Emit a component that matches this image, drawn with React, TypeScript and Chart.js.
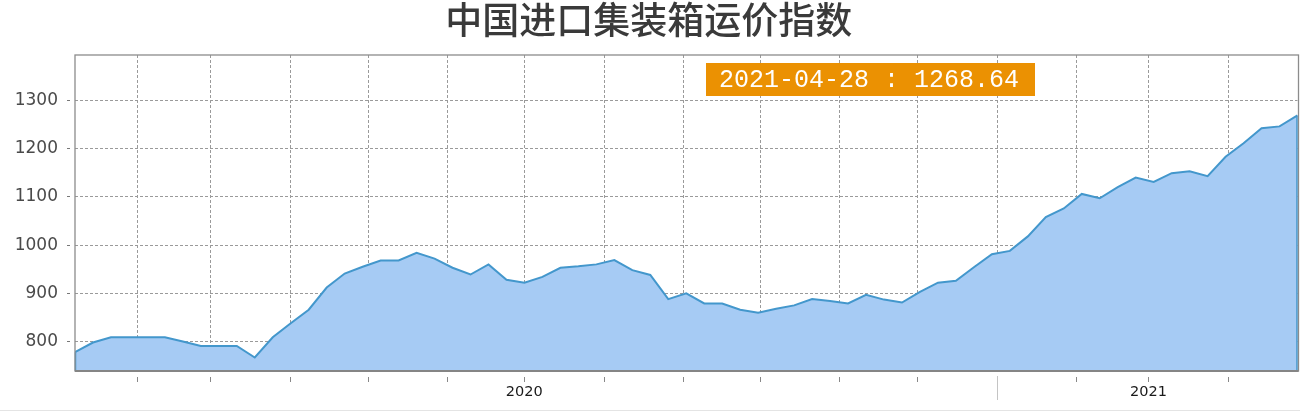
import React, { useEffect, useRef } from 'react';
import { Chart, registerables } from 'chart.js';

Chart.register(...registerables);

const TITLE = '中国进口集装箱运价指数';
const LAST_DATE = '2021-04-28';

// weekly index values (oldest -> latest)
const indexValues = [
  778, 798, 809, 809, 809, 809, 800, 791, 791, 791,
  767, 809, 838, 866, 912, 941, 955, 968, 968, 984,
  972, 953, 939, 960, 928, 922, 934, 953, 956, 960,
  969, 948, 938, 888, 900, 879, 879, 866, 860, 868,
  875, 888, 884, 879, 897, 887, 881, 903, 922, 926,
  954, 981, 988, 1018, 1058, 1076, 1106, 1097, 1120, 1140,
  1131, 1149, 1153, 1143, 1183, 1211, 1242, 1246, 1268.64,
];

const yTickValues = [800, 900, 1000, 1100, 1200, 1300];
const Y_MIN = 739;
const Y_MAX = 1394;

// x grid ticks, in data-index units
const xGridTicks = [3.45, 7.51, 11.96, 16.3, 20.7, 24.99, 29.44, 33.83, 38.12, 42.52, 46.86, 51.31, 55.7, 59.71, 64.16];
const xTickLabels = ['', '', '', '', '', '2020', '', '', '', '', '', '', '', '2021', ''];
const xMarkerTick = 51.31;

const LINE_COLOR = '#4397cc';
const FILL_COLOR = '#a6cbf4';

const overlayPlugin = {
  id: 'overlay',
  beforeDraw(chart: any) {
    const { ctx, width } = chart;
    ctx.save();
    ctx.fillStyle = '#ffffff';
    ctx.fillRect(0, 0, width, chart.height);
    ctx.strokeStyle = '#e4e4e4';
    ctx.lineWidth = 1;
    ctx.beginPath();
    ctx.moveTo(0, 410.5);
    ctx.lineTo(width, 410.5);
    ctx.stroke();
    ctx.restore();
  },
  afterDatasetsDraw(chart: any) {
    const { ctx } = chart;
    const { left, right, top, bottom } = chart.chartArea;
    const pts = chart.getDatasetMeta(0).data;
    const first = pts[0];
    const last = pts[pts.length - 1];
    ctx.save();
    // area outline edges
    ctx.strokeStyle = LINE_COLOR;
    ctx.lineWidth = 1.5;
    ctx.beginPath();
    ctx.moveTo(first.x + 0.5, first.y);
    ctx.lineTo(first.x + 0.5, bottom);
    ctx.moveTo(last.x - 0.5, last.y);
    ctx.lineTo(last.x - 0.5, bottom);
    ctx.stroke();
    // frame
    ctx.strokeStyle = '#8c8c8c';
    ctx.lineWidth = 1.3;
    ctx.strokeRect(left, top, right - left + 1, bottom - top);
    ctx.strokeStyle = '#858585';
    ctx.lineWidth = 2;
    ctx.beginPath();
    ctx.moveTo(left, bottom);
    ctx.lineTo(right + 1, bottom);
    ctx.stroke();
    // longer marker tick
    const xs = chart.scales.x;
    const mx = Math.round(xs.getPixelForValue(xMarkerTick)) + 0.5;
    ctx.strokeStyle = '#c4c4c4';
    ctx.lineWidth = 1;
    ctx.beginPath();
    ctx.moveTo(mx, bottom + 5);
    ctx.lineTo(mx, bottom + 29);
    ctx.stroke();
    // value label box
    const label = `${LAST_DATE} : ${indexValues[indexValues.length - 1].toFixed(2)}`;
    ctx.fillStyle = '#eb9102';
    ctx.fillRect(706, 63, 329, 33);
    ctx.fillStyle = '#ffffff';
    ctx.font = '25px "Liberation Mono", "DejaVu Sans Mono", monospace';
    ctx.textAlign = 'left';
    ctx.textBaseline = 'middle';
    ctx.fillText(label, 719, 80.5);
    ctx.restore();
  },
};

export default function App() {
  const canvasRef = useRef<HTMLCanvasElement | null>(null);

  useEffect(() => {
    const canvas = canvasRef.current;
    if (!canvas) return;
    const chart = new Chart(canvas, {
      type: 'line',
      data: {
        datasets: [
          {
            data: indexValues.map((v, i) => ({ x: i, y: v })),
            borderColor: LINE_COLOR,
            backgroundColor: FILL_COLOR,
            borderWidth: 2,
            fill: 'start',
            pointRadius: 0,
            tension: 0,
          },
        ],
      },
      options: {
        animation: false,
        responsive: false,
        devicePixelRatio: 1,
        layout: { padding: { left: 0, right: 2.5, top: 0, bottom: 0 } },
        plugins: {
          legend: { display: false },
          tooltip: { enabled: false },
          title: {
            display: true,
            text: TITLE,
            color: '#3a3a3a',
            font: { family: '"Noto Sans CJK SC", sans-serif', size: 37, weight: 500, lineHeight: 1.1 },
            padding: { top: 0, bottom: 14.3 },
          },
        },
        scales: {
          x: {
            type: 'linear',
            min: 0,
            max: indexValues.length - 1,
            afterBuildTicks: (s: any) => {
              s.ticks = xGridTicks.map((v) => ({ value: v }));
            },
            afterFit: (s: any) => {
              s.height = 41;
            },
            ticks: {
              autoSkip: false,
              maxRotation: 0,
              minRotation: 0,
              padding: 2,
              color: '#1a1a1a',
              font: { family: '"DejaVu Sans", sans-serif', size: 14.5 },
              callback: (_v: any, i: number) => xTickLabels[i] ?? '',
            },
            grid: {
              color: '#9a9a9a',
              lineWidth: 1,
              tickLength: 11,
              tickColor: '#888888',
              tickBorderDash: [0, 6, 5, 60],
            },
            border: { display: false, dash: [3, 2] },
          },
          y: {
            type: 'linear',
            min: Y_MIN,
            max: Y_MAX,
            afterBuildTicks: (s: any) => {
              s.ticks = yTickValues.map((v) => ({ value: v }));
            },
            afterFit: (s: any) => {
              s.width = 75;
            },
            ticks: {
              padding: 9,
              color: '#4a4a4a',
              font: { family: '"DejaVu Sans", sans-serif', size: 17 },
              callback: (v: any) => String(v),
            },
            grid: {
              color: '#9a9a9a',
              lineWidth: 1,
              tickLength: 8,
              tickColor: '#777777',
              tickBorderDash: [3, 5],
            },
            border: { display: false, dash: [3, 2] },
          },
        },
      },
      plugins: [overlayPlugin],
    } as any);
    return () => chart.destroy();
  }, []);

  return (
    <div style={{ position: 'fixed', left: 0, top: 0, width: 1300, height: 412, background: '#fff' }}>
      <canvas ref={canvasRef} width={1300} height={412} style={{ display: 'block' }} />
    </div>
  );
}
